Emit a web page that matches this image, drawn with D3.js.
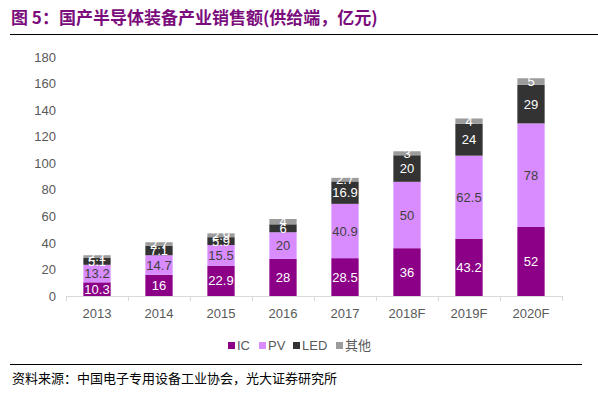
<!DOCTYPE html>
<html>
<head>
<meta charset="utf-8">
<script src="https://cdn.jsdelivr.net/npm/d3@7"></script>
<style>
  body { margin: 0; background: #fff; }
  svg { display: block; }
</style>
</head>
<body>
<div id="chart"></div>
<script>
// Datos del gráfico
const years = ['2013', '2014', '2015', '2016', '2017', '2018F', '2019F', '2020F'];
const icValues = [10.3, 16, 22.9, 28, 28.5, 36, 43.2, 52];
const pvValues = [13.2, 14.7, 15.5, 20, 40.9, 50, 62.5, 78];
const ledValues = [5.1, 7.1, 5.9, 6, 16.9, 20, 24, 29];
const otherValues = [2.1, 2.7, 2.9, 4, 2.7, 3, 4, 5];
const seriesNames = ['IC', 'PV', 'LED', '其他'];
const yTicks = [0, 20, 40, 60, 80, 100, 120, 140, 160, 180];

const colors = ['#8b0086', '#d98cff', '#333333', '#9c9c9c'];
const labelColors = ['#ffffff', '#404040', '#ffffff', '#ffffff'];

const width = 598, height = 393;
const svg = d3.select('#chart').append('svg')
    .attr('width', width)
    .attr('height', height);

// Título
svg.append('text')
    .attr('x', 11).attr('y', 24)
    .attr('font-family', '"Noto Sans CJK SC", sans-serif')
    .attr('font-size', 17)
    .attr('font-weight', 'bold')
    .attr('fill', '#7b0c7b')
    .text('图 5：国产半导体装备产业销售额(供给端，亿元)');

svg.append('line')
    .attr('x1', 10).attr('x2', 598)
    .attr('y1', 34.5).attr('y2', 34.5)
    .attr('stroke', '#000').attr('stroke-width', 1);

// Escalas
const x = d3.scaleBand().domain(years).range([66, 562]).paddingInner(0.56).paddingOuter(0.28);
const y = d3.scaleLinear().domain([0, 180]).range([296, 57]);

// Eje Y (sin línea)
const yAxis = svg.append('g')
    .attr('transform', 'translate(56,0)')
    .call(d3.axisLeft(y).tickValues(yTicks).tickSize(0).tickPadding(0));
yAxis.select('.domain').remove();
yAxis.selectAll('text')
    .attr('font-family', '"Liberation Sans", Arial, sans-serif')
    .attr('font-size', 13)
    .attr('fill', '#595959');

// Apilado
const rows = years.map((yr, i) => ({
    year: yr, IC: icValues[i], PV: pvValues[i], LED: ledValues[i], '其他': otherValues[i]
}));
const stack = d3.stack().keys(seriesNames)(rows);

const layers = svg.append('g').selectAll('g')
    .data(stack)
    .enter().append('g')
    .attr('fill', (d, i) => colors[i]);

layers.selectAll('rect')
    .data(d => d)
    .enter().append('rect')
    .attr('x', d => x(d.data.year))
    .attr('width', x.bandwidth())
    .attr('y', d => y(d[1]))
    .attr('height', d => y(d[0]) - y(d[1]));

// Etiquetas de valores (se solapan en barras pequeñas, como en el original)
stack.forEach((layer, si) => {
    svg.append('g').selectAll('text')
        .data(layer)
        .enter().append('text')
        .attr('x', d => x(d.data.year) + x.bandwidth() / 2)
        .attr('y', d => (y(d[0]) + y(d[1])) / 2)
        .attr('dy', '0.36em')
        .attr('text-anchor', 'middle')
        .attr('font-family', '"Liberation Sans", Arial, sans-serif')
        .attr('font-size', 13)
        .attr('fill', labelColors[si])
        .text(d => d.data[layer.key]);
});

// Eje X
const xAxisLine = svg.append('g');
xAxisLine.append('line')
    .attr('x1', 66).attr('x2', 562)
    .attr('y1', 296.5).attr('y2', 296.5)
    .attr('stroke', '#d9d9d9');
d3.range(years.length + 1).forEach(i => {
    const tx = Math.round(66 + i * x.step()) + 0.5;
    xAxisLine.append('line')
        .attr('x1', tx).attr('x2', tx)
        .attr('y1', 296).attr('y2', 301)
        .attr('stroke', '#d9d9d9');
});
svg.append('g').selectAll('text')
    .data(years)
    .enter().append('text')
    .attr('x', d => x(d) + x.bandwidth() / 2)
    .attr('y', 318)
    .attr('text-anchor', 'middle')
    .attr('font-family', '"Liberation Sans", Arial, sans-serif')
    .attr('font-size', 13)
    .attr('fill', '#595959')
    .text(d => d);

// Leyenda
const legendX = [228, 259, 293, 336];
const legend = svg.append('g');
seriesNames.forEach((name, i) => {
    legend.append('rect')
        .attr('x', legendX[i]).attr('y', 342)
        .attr('width', 7).attr('height', 7)
        .attr('fill', colors[i]);
    legend.append('text')
        .attr('x', legendX[i] + 9).attr('y', 350)
        .attr('font-family', '"Liberation Sans", Arial, "Noto Sans CJK SC", sans-serif')
        .attr('font-size', 13)
        .attr('fill', '#595959')
        .text(name);
});

// Fuente
svg.append('line')
    .attr('x1', 10).attr('x2', 582)
    .attr('y1', 364.5).attr('y2', 364.5)
    .attr('stroke', '#000');
svg.append('text')
    .attr('x', 12).attr('y', 383)
    .attr('font-family', '"Noto Sans CJK SC", sans-serif')
    .attr('font-size', 13)
    .attr('fill', '#000')
    .text('资料来源：中国电子专用设备工业协会，光大证券研究所');
</script>
</body>
</html>
